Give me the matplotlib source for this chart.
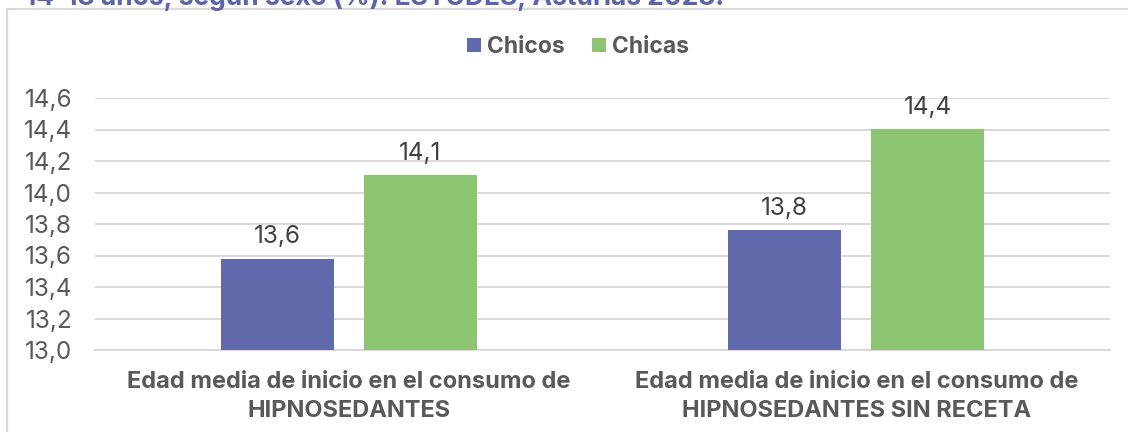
import matplotlib.pyplot as plt
from matplotlib.lines import Line2D
import numpy as np

plt.rcParams['font.family'] = ['Inter', 'DejaVu Sans']

categorias = ["Edad media de inicio en el consumo de\nHIPNOSEDANTES",
              "Edad media de inicio en el consumo de\nHIPNOSEDANTES SIN RECETA"]
chicos = [13.58, 13.76]
chicas = [14.11, 14.40]
series = ["Chicos", "Chicas"]
colores = ["#5f69ab", "#8cc472"]
yticks = [13.0, 13.2, 13.4, 13.6, 13.8, 14.0, 14.2, 14.4, 14.6]

fig = plt.figure(figsize=(11.28, 4.32), dpi=100)
ax = fig.add_axes([95 / 1128, 1 - 350 / 432, 1015 / 1128, 252 / 432])

x = np.arange(len(categorias))
w = 0.223
off = 0.141
b1 = ax.bar(x - off, [v - 13.0 for v in chicos], w, bottom=13.0, color=colores[0], label=series[0], zorder=3)
b2 = ax.bar(x + off, [v - 13.0 for v in chicas], w, bottom=13.0, color=colores[1], label=series[1], zorder=3)

for bars, vals in ((b1, chicos), (b2, chicas)):
    for r, v in zip(bars, vals):
        ax.text(r.get_x() + r.get_width() / 2, v + 0.065, f"{v:.1f}".replace(".", ","),
                ha="center", va="bottom", fontsize=17.5, color="#404040")

ax.set_xlim(-0.5, 1.5)
ax.set_ylim(13.0, 14.6)
ax.set_yticks(yticks)
ax.set_yticklabels([f"{t:.1f}".replace(".", ",") for t in yticks], fontsize=17.5, color="#595959")
ax.set_xticks(x)
ax.set_xticklabels(categorias, fontsize=17, fontweight="bold", color="#595959", linespacing=1.4)
ax.tick_params(axis="both", length=0)
ax.tick_params(axis="y", pad=16.5)
ax.tick_params(axis="x", pad=15)
ax.grid(axis="y", color="#d9d9d9", linewidth=1.4, zorder=0)
for s in ["top", "right", "left"]:
    ax.spines[s].set_visible(False)
ax.spines["bottom"].set_color("#d9d9d9")
ax.spines["bottom"].set_linewidth(1.4)

fig.legend(handles=[b1, b2], labels=series, loc="center", bbox_to_anchor=(578 / 1128, 1 - 47 / 432),
           ncol=2, frameon=False, prop={"weight": "bold", "size": 16.5}, handlelength=0.6,
           handleheight=0.6, handletextpad=0.25, columnspacing=1.2, labelcolor="#595959")

# chart frame (cut off at right and bottom)
fig.add_artist(Line2D([7 / 1128, 7 / 1128], [0, 1 - 9 / 432], color="#d9d9d9", linewidth=1.5))
fig.add_artist(Line2D([7 / 1128, 1], [1 - 9 / 432, 1 - 9 / 432], color="#d9d9d9", linewidth=1.5))

# title, mostly cropped above the image
fig.text(25 / 1128, 1 - 5 / 432, "14-18 años, según sexo (%). ESTUDES, Asturias 2023.",
         fontsize=19, fontweight="bold", color="#5b63ac", va="baseline", ha="left")

fig.savefig("out.png", dpi=100)
